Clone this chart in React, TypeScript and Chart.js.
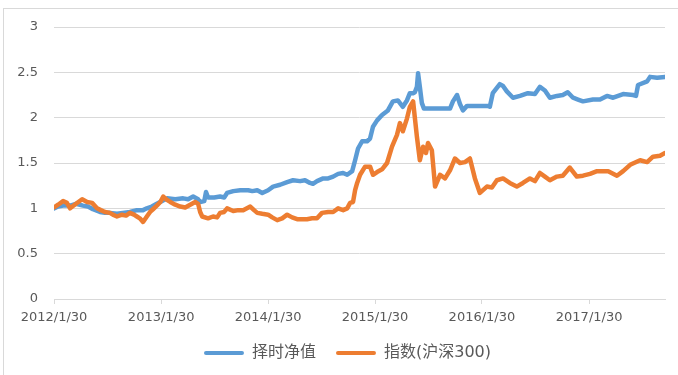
import React, { useEffect, useRef } from "react";
import { Chart, registerables } from "chart.js";

Chart.register(...registerables);

const SERIES_NAMES = ["择时净值", "指数(沪深300)"];
const SERIES_COLORS = ["#5B9BD5", "#ED7D31"];
const X_TICK_LABELS = ["2012/1/30", "2013/1/30", "2014/1/30", "2015/1/30", "2016/1/30", "2017/1/30"];
const Y_TICK_LABELS = ["0", "0.5", "1", "1.5", "2", "2.5", "3"];
const Y_MIN = 0;
const Y_MAX = 3;
const Y_STEP = 0.5;

// 择时净值 (date, value)
const NAV_POINTS: [string, number][] = [
  ["2012-01-30", 1.0], ["2012-02-13", 1.02], ["2012-03-01", 1.03], ["2012-03-25", 1.03],
  ["2012-04-14", 1.05], ["2012-05-08", 1.03], ["2012-05-25", 1.02], ["2012-06-11", 0.99],
  ["2012-07-05", 0.96], ["2012-07-22", 0.95], ["2012-08-08", 0.95], ["2012-09-01", 0.94],
  ["2012-09-21", 0.95], ["2012-10-15", 0.96], ["2012-11-08", 0.98], ["2012-11-29", 0.98],
  ["2012-12-12", 1.0], ["2012-12-29", 1.02], ["2013-01-15", 1.05], ["2013-02-02", 1.08],
  ["2013-02-19", 1.11], ["2013-03-19", 1.1], ["2013-04-15", 1.11], ["2013-05-02", 1.1],
  ["2013-05-19", 1.13], ["2013-06-05", 1.1], ["2013-06-12", 1.07], ["2013-06-26", 1.08],
  ["2013-07-02", 1.18], ["2013-07-09", 1.12], ["2013-07-30", 1.12], ["2013-08-19", 1.13],
  ["2013-09-02", 1.12], ["2013-09-12", 1.17], ["2013-10-03", 1.19], ["2013-10-27", 1.2],
  ["2013-11-23", 1.2], ["2013-12-07", 1.19], ["2013-12-24", 1.2], ["2014-01-10", 1.17],
  ["2014-01-30", 1.2], ["2014-02-16", 1.24], ["2014-03-12", 1.26], ["2014-04-05", 1.29],
  ["2014-04-25", 1.31], ["2014-05-19", 1.3], ["2014-06-05", 1.31], ["2014-06-22", 1.28],
  ["2014-07-02", 1.27], ["2014-07-16", 1.3], ["2014-08-06", 1.33], ["2014-08-23", 1.33],
  ["2014-09-09", 1.35], ["2014-09-26", 1.38], ["2014-10-13", 1.39], ["2014-10-27", 1.37],
  ["2014-11-13", 1.41], ["2014-11-23", 1.53], ["2014-12-03", 1.66], ["2014-12-17", 1.74],
  ["2015-01-03", 1.74], ["2015-01-13", 1.77], ["2015-01-23", 1.9], ["2015-02-06", 1.97],
  ["2015-02-23", 2.03], ["2015-03-15", 2.08], ["2015-04-01", 2.18], ["2015-04-18", 2.19],
  ["2015-05-05", 2.12], ["2015-05-19", 2.19], ["2015-05-29", 2.27], ["2015-06-09", 2.27],
  ["2015-06-15", 2.28], ["2015-06-22", 2.34], ["2015-06-26", 2.49], ["2015-07-02", 2.34],
  ["2015-07-09", 2.16], ["2015-07-16", 2.1], ["2015-10-13", 2.1], ["2015-10-23", 2.18],
  ["2015-11-06", 2.25], ["2015-11-16", 2.15], ["2015-11-26", 2.08], ["2015-12-10", 2.13],
  ["2016-02-19", 2.13], ["2016-02-26", 2.12], ["2016-03-07", 2.27], ["2016-03-31", 2.37],
  ["2016-04-11", 2.35], ["2016-04-24", 2.29], ["2016-05-15", 2.22], ["2016-06-08", 2.24],
  ["2016-07-05", 2.27], ["2016-07-29", 2.26], ["2016-08-15", 2.34], ["2016-09-01", 2.3],
  ["2016-09-18", 2.22], ["2016-10-12", 2.24], ["2016-11-01", 2.25], ["2016-11-18", 2.28],
  ["2016-12-06", 2.22], ["2016-12-23", 2.2], ["2017-01-09", 2.18], ["2017-02-12", 2.2],
  ["2017-03-08", 2.2], ["2017-04-01", 2.24], ["2017-04-22", 2.22], ["2017-05-26", 2.26],
  ["2017-06-29", 2.25], ["2017-07-09", 2.24], ["2017-07-16", 2.36], ["2017-08-16", 2.4],
  ["2017-08-26", 2.45], ["2017-09-19", 2.44], ["2017-10-16", 2.45],
];

// 指数(沪深300) (date, value)
const IDX_POINTS: [string, number][] = [
  ["2012-01-30", 1.01], ["2012-02-13", 1.04], ["2012-03-01", 1.08], ["2012-03-14", 1.06],
  ["2012-03-25", 1.0], ["2012-04-14", 1.05], ["2012-05-05", 1.1], ["2012-05-22", 1.07],
  ["2012-06-08", 1.06], ["2012-06-25", 1.0], ["2012-07-08", 0.98], ["2012-07-22", 0.96],
  ["2012-08-08", 0.95], ["2012-08-18", 0.93], ["2012-09-01", 0.91], ["2012-09-18", 0.93],
  ["2012-10-02", 0.92], ["2012-10-15", 0.95], ["2012-10-29", 0.93], ["2012-11-08", 0.91],
  ["2012-11-18", 0.89], ["2012-11-29", 0.85], ["2012-12-12", 0.91], ["2012-12-23", 0.96],
  ["2013-01-02", 0.99], ["2013-01-15", 1.03], ["2013-01-27", 1.07], ["2013-02-06", 1.13],
  ["2013-02-16", 1.1], ["2013-03-02", 1.07], ["2013-03-19", 1.04], ["2013-04-05", 1.02],
  ["2013-04-22", 1.01], ["2013-05-09", 1.04], ["2013-05-26", 1.07], ["2013-06-05", 1.05],
  ["2013-06-12", 0.96], ["2013-06-19", 0.91], ["2013-07-09", 0.89], ["2013-07-26", 0.91],
  ["2013-08-09", 0.9], ["2013-08-19", 0.95], ["2013-09-02", 0.96], ["2013-09-12", 1.0],
  ["2013-10-03", 0.97], ["2013-10-20", 0.98], ["2013-11-06", 0.98], ["2013-11-30", 1.02],
  ["2013-12-13", 0.98], ["2013-12-24", 0.95], ["2014-01-10", 0.94], ["2014-01-30", 0.93],
  ["2014-02-13", 0.9], ["2014-03-02", 0.87], ["2014-03-19", 0.89], ["2014-04-05", 0.93],
  ["2014-04-22", 0.9], ["2014-05-09", 0.88], ["2014-05-26", 0.88], ["2014-06-12", 0.88],
  ["2014-06-29", 0.89], ["2014-07-16", 0.89], ["2014-08-02", 0.95], ["2014-08-23", 0.96],
  ["2014-09-09", 0.96], ["2014-09-26", 1.0], ["2014-10-13", 0.98], ["2014-10-27", 1.0],
  ["2014-11-06", 1.06], ["2014-11-16", 1.07], ["2014-11-23", 1.2], ["2014-11-30", 1.28],
  ["2014-12-10", 1.37], ["2014-12-27", 1.46], ["2015-01-13", 1.46], ["2015-01-23", 1.37],
  ["2015-02-06", 1.4], ["2015-02-23", 1.43], ["2015-03-12", 1.5], ["2015-03-29", 1.68],
  ["2015-04-15", 1.81], ["2015-04-25", 1.94], ["2015-05-05", 1.85], ["2015-05-19", 1.99],
  ["2015-05-29", 2.12], ["2015-06-09", 2.18], ["2015-06-15", 2.0], ["2015-06-22", 1.79],
  ["2015-07-02", 1.53], ["2015-07-13", 1.68], ["2015-07-23", 1.61], ["2015-07-30", 1.72],
  ["2015-08-12", 1.64], ["2015-08-23", 1.24], ["2015-09-09", 1.37], ["2015-09-26", 1.33],
  ["2015-10-13", 1.42], ["2015-10-30", 1.55], ["2015-11-16", 1.5], ["2015-12-03", 1.51],
  ["2015-12-20", 1.55], ["2016-01-06", 1.33], ["2016-01-23", 1.17], ["2016-02-16", 1.24],
  ["2016-03-04", 1.23], ["2016-03-21", 1.31], ["2016-04-11", 1.33], ["2016-05-04", 1.28],
  ["2016-05-28", 1.24], ["2016-06-18", 1.28], ["2016-07-12", 1.33], ["2016-07-29", 1.3],
  ["2016-08-15", 1.39], ["2016-09-01", 1.35], ["2016-09-18", 1.31], ["2016-10-12", 1.35],
  ["2016-11-01", 1.36], ["2016-11-25", 1.45], ["2016-12-19", 1.35], ["2017-01-09", 1.36],
  ["2017-02-02", 1.38], ["2017-02-26", 1.41], ["2017-04-05", 1.41], ["2017-05-05", 1.36],
  ["2017-05-26", 1.41], ["2017-06-19", 1.48], ["2017-07-23", 1.53], ["2017-08-16", 1.51],
  ["2017-09-05", 1.57], ["2017-09-29", 1.58], ["2017-10-16", 1.61],
];

const toTime = (iso: string) => Date.parse(iso);
const tickToTime = (label: string) => {
  const [y, m, d] = label.split("/").map(Number);
  return Date.UTC(y, m - 1, d);
};

const TEXT_COLOR = "#595959";
const GRID_COLOR = "#d9d9d9";
const FONT_FAMILY = '"DejaVu Sans", "Noto Sans CJK SC", sans-serif';

const legendShift = {
  id: "legendShift",
  afterLayout(chart: any) {
    const lg = chart.legend;
    if (lg) {
      lg.left += 15;
      lg.right += 15;
    }
  },
};

export default function App() {
  const canvasRef = useRef<HTMLCanvasElement | null>(null);

  useEffect(() => {
    document.body.style.margin = "0";
    const canvas = canvasRef.current;
    if (!canvas) return;
    const tickValues = X_TICK_LABELS.map(tickToTime);
    const allSeries = [NAV_POINTS, IDX_POINTS];
    const xMin = toTime(NAV_POINTS[0][0]);
    const xMax = toTime(NAV_POINTS[NAV_POINTS.length - 1][0]);

    const chart = new Chart(canvas, {
      type: "line",
      data: {
        datasets: allSeries.map((pts, i) => ({
          label: SERIES_NAMES[i],
          data: pts.map(([d, v]) => ({ x: toTime(d), y: v })),
          borderColor: SERIES_COLORS[i],
          backgroundColor: SERIES_COLORS[i],
          borderWidth: 4.5,
          pointRadius: 0,
          pointHoverRadius: 0,
          tension: 0,
          fill: false,
          borderJoinStyle: "round" as const,
          borderCapStyle: "round" as const,
          order: i === 0 ? 1 : 0,
        })),
      },
      plugins: [legendShift],
      options: {
        animation: false,
        responsive: false,
        devicePixelRatio: 1,
        layout: { padding: { left: 0, right: 13, top: 27, bottom: 4 } },
        plugins: {
          tooltip: { enabled: false },
          legend: {
            position: "bottom",
            labels: {
              color: TEXT_COLOR,
              font: { family: FONT_FAMILY, size: 16 },
              boxWidth: 40,
              boxHeight: 4,
              padding: 20,
              sort: (a: any, b: any) => a.datasetIndex - b.datasetIndex,
              generateLabels: (c: any) => {
                const items = Chart.defaults.plugins.legend.labels.generateLabels(c);
                return items.map((it: any) => ({
                  ...it,
                  fillStyle: SERIES_COLORS[it.datasetIndex],
                  strokeStyle: SERIES_COLORS[it.datasetIndex],
                  lineWidth: 0,
                  borderRadius: 2,
                }));
              },
            },
          },
        },
        scales: {
          x: {
            type: "linear",
            min: xMin,
            max: xMax,
            afterBuildTicks: (scale: any) => {
              scale.ticks = tickValues.map((v) => ({ value: v }));
            },
            afterFit: (scale: any) => {
              scale.height = 26;
            },
            ticks: {
              autoSkip: false,
              maxRotation: 0,
              minRotation: 0,
              color: TEXT_COLOR,
              padding: 6,
              font: { family: FONT_FAMILY, size: 13 },
              callback: (value: any) => {
                const idx = tickValues.indexOf(Number(value));
                return idx >= 0 ? X_TICK_LABELS[idx] : "";
              },
            },
            grid: {
              drawOnChartArea: false,
              drawTicks: true,
              tickLength: 5,
              color: GRID_COLOR,
            },
            border: { color: GRID_COLOR, width: 1 },
          },
          y: {
            type: "linear",
            min: Y_MIN,
            max: Y_MAX,
            afterFit: (scale: any) => {
              scale.width = 54;
            },
            ticks: {
              stepSize: Y_STEP,
              color: TEXT_COLOR,
              padding: 16,
              font: { family: FONT_FAMILY, size: 13 },
              callback: (value: any) => {
                const idx = Math.round((Number(value) - Y_MIN) / Y_STEP);
                return Y_TICK_LABELS[idx] ?? "";
              },
            },
            grid: { color: GRID_COLOR, drawTicks: false },
            border: { display: false },
          },
        },
      },
    });
    return () => chart.destroy();
  }, []);

  return (
    <div style={{ position: "relative", width: 678, height: 375, overflow: "hidden", background: "#fff" }}>
      <div
        style={{
          position: "absolute",
          left: 3,
          top: 8,
          width: 700,
          height: 400,
          border: "1px solid #d9d9d9",
          boxSizing: "border-box",
        }}
      />
      <canvas ref={canvasRef} width={678} height={375} style={{ position: "absolute", left: 0, top: 0 }} />
    </div>
  );
}
